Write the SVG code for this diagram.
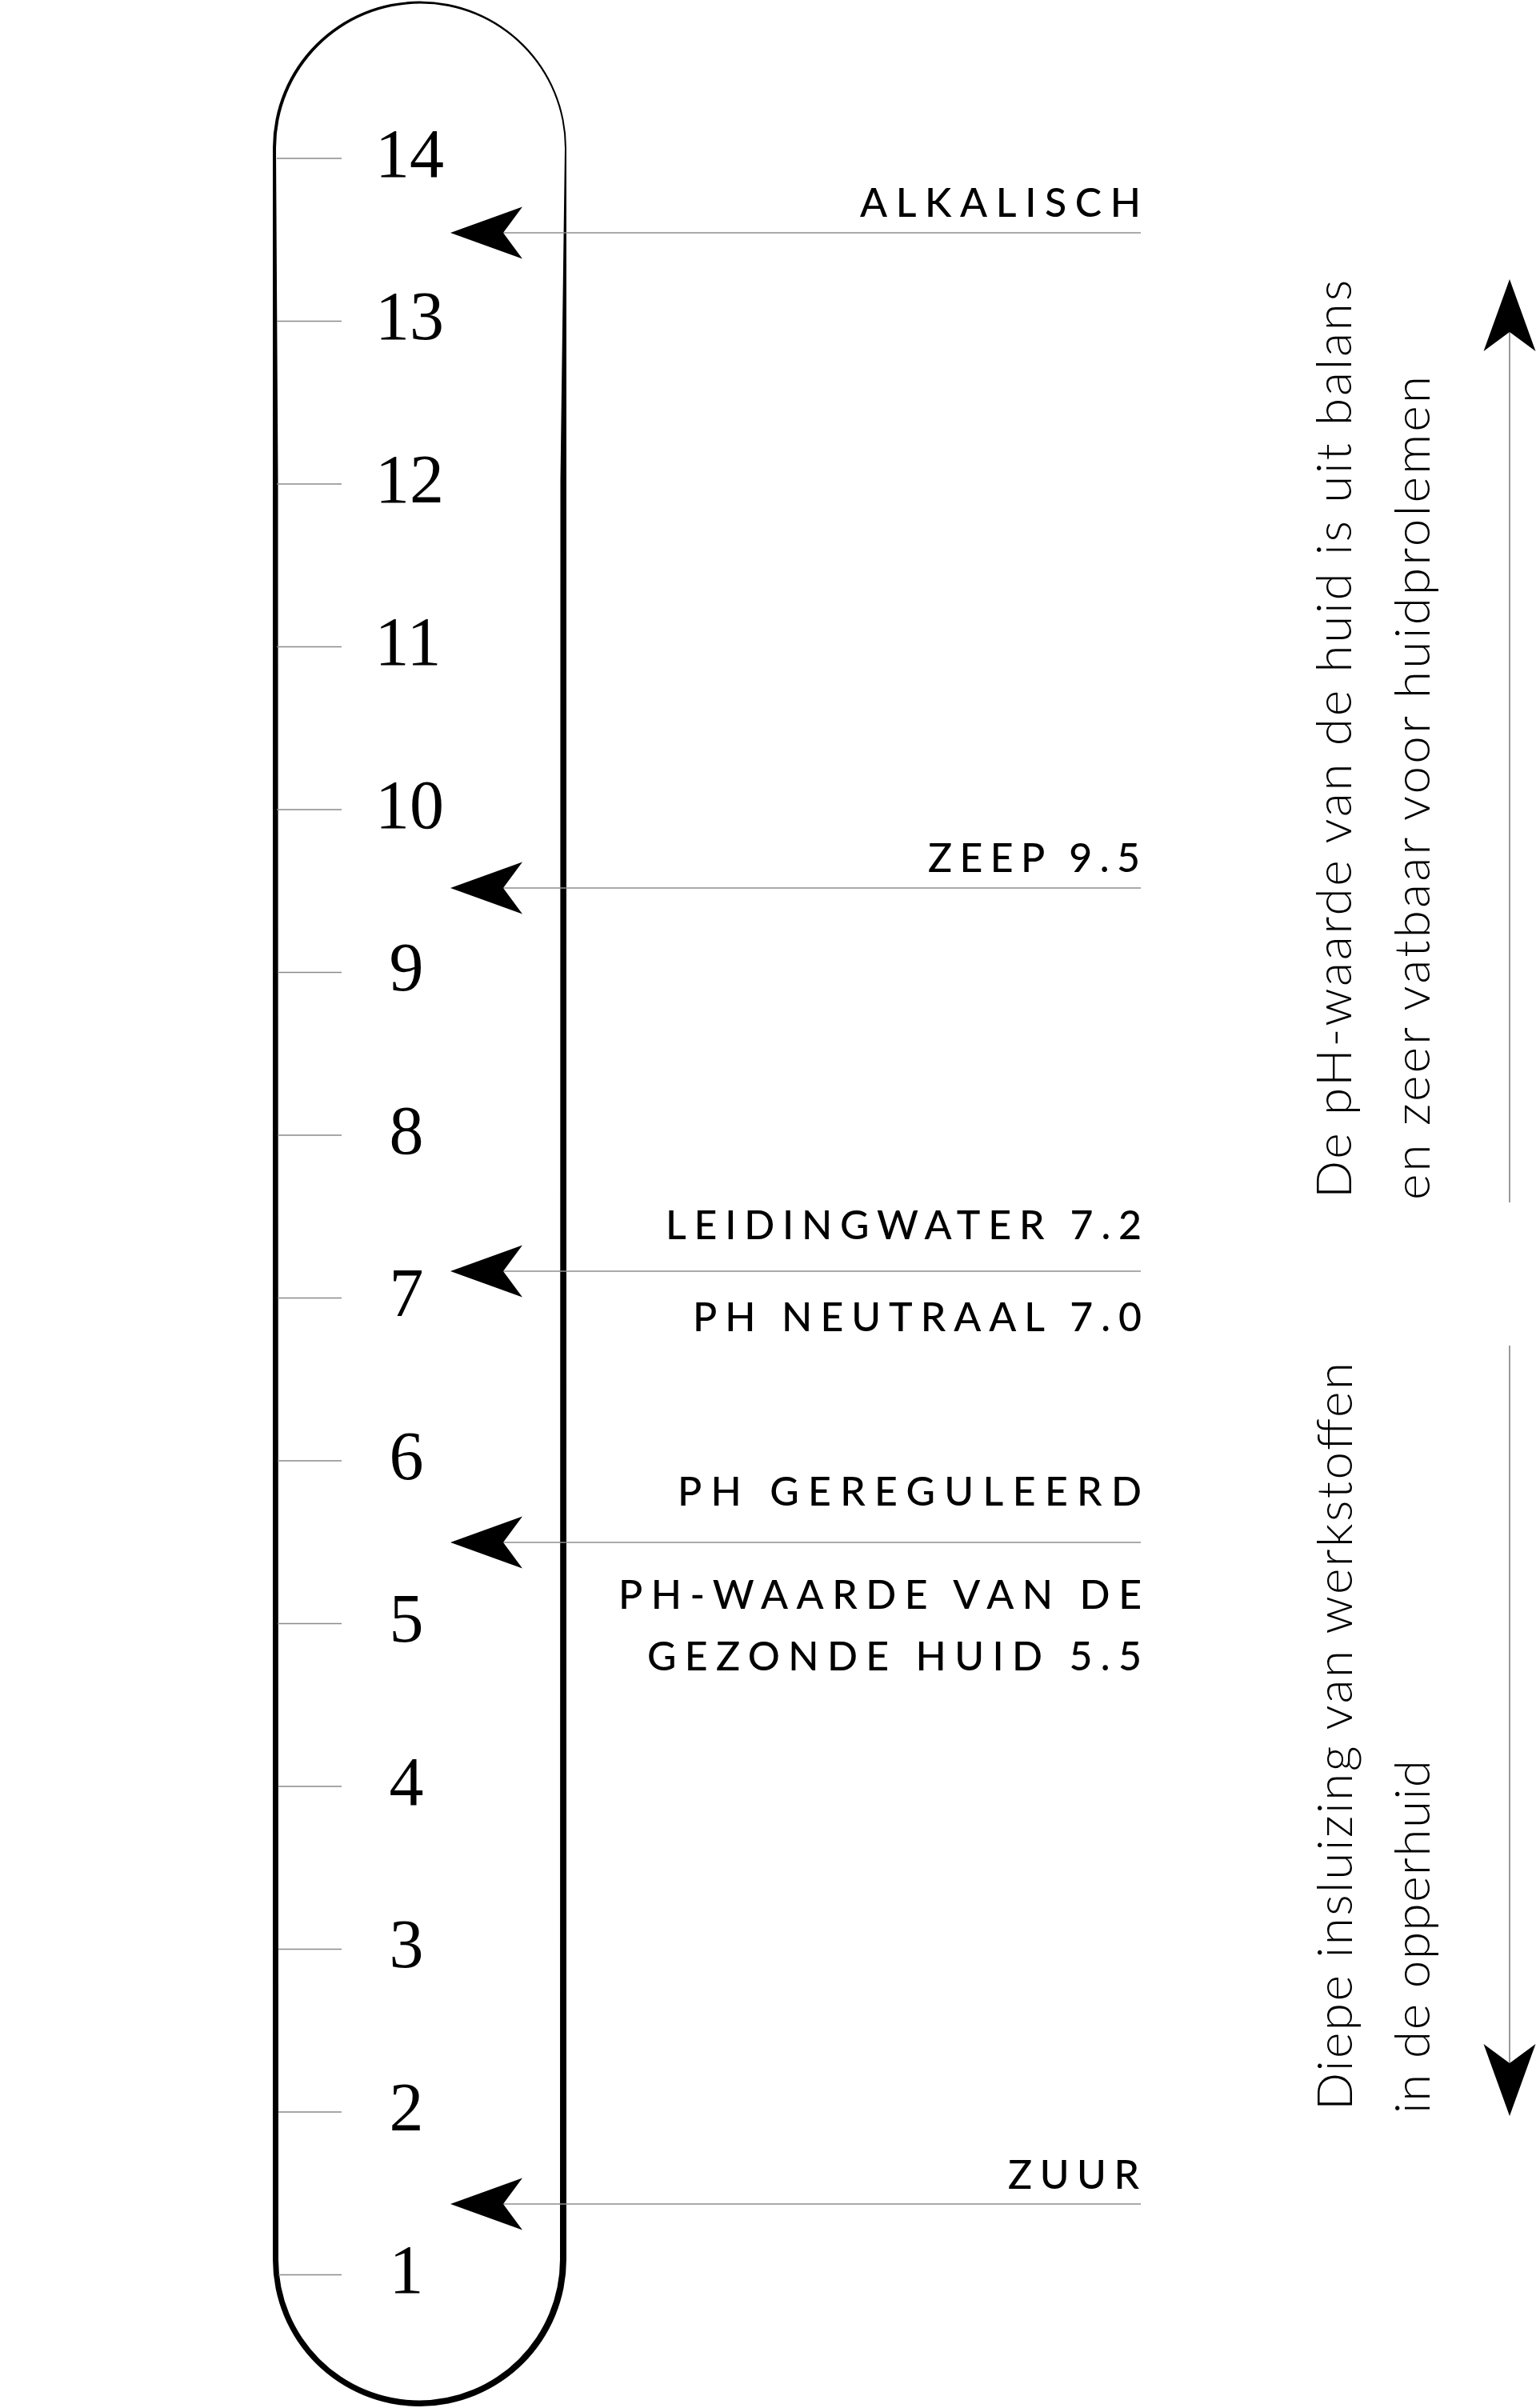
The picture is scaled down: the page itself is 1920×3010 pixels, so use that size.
<svg xmlns="http://www.w3.org/2000/svg" xmlns:xlink="http://www.w3.org/1999/xlink" width="1920" height="3010" viewBox="0 0 1920 3010">
<style>
.bg{fill:#ffffff}
.tick{stroke:#8a8a8a;stroke-width:1.6;fill:none}
.conn{stroke:#8e8e8e;stroke-width:1.6;fill:none}
.vconn{stroke:#9a9a9a;stroke-width:2;fill:none}
.num{font-family:"Liberation Serif","Times New Roman",serif;font-size:86px;fill:#000;text-anchor:middle}
.lbl{font-family:Lato,"Liberation Sans",sans-serif;font-size:50px;font-weight:500;fill:#000}
.vt{font-family:Lato,"Liberation Sans",sans-serif;font-size:62px;font-weight:300;fill:#000}
.head{fill:#000}
</style>
<defs>
<path id="ah" class="head" d="M0,0 L90,-32.5 L66,0 L90,32.5 Z"/>
</defs>
<rect class="bg" x="0" y="0" width="1920" height="3010"/>

<g id="tube">
<path fill="#000" fill-rule="evenodd" d="M341,185 A183.5,183.5 0 0 1 708,185 L708,2824.5 A183.5,183.5 0 0 1 341,2824.5 Z M345,185 L347.5,600 L348,2824.5 A176,176 0 0 0 700,2824.5 L700.5,600 L706,185 A180.5,180.5 0 0 0 345,185 Z"/>
</g>

<g id="scale">
<g id="ticks">
<line class="tick" x1="346" y1="198" x2="427" y2="198"/>
<line class="tick" x1="346" y1="401.5" x2="427" y2="401.5"/>
<line class="tick" x1="346" y1="605" x2="427" y2="605"/>
<line class="tick" x1="346" y1="808.5" x2="427" y2="808.5"/>
<line class="tick" x1="346" y1="1012" x2="427" y2="1012"/>
<line class="tick" x1="347" y1="1215.5" x2="427" y2="1215.5"/>
<line class="tick" x1="347" y1="1419" x2="427" y2="1419"/>
<line class="tick" x1="347" y1="1622.5" x2="427" y2="1622.5"/>
<line class="tick" x1="347" y1="1826" x2="427" y2="1826"/>
<line class="tick" x1="347" y1="2029.5" x2="427" y2="2029.5"/>
<line class="tick" x1="348" y1="2233" x2="427" y2="2233"/>
<line class="tick" x1="348" y1="2436.5" x2="427" y2="2436.5"/>
<line class="tick" x1="348" y1="2640" x2="427" y2="2640"/>
<line class="tick" x1="348" y1="2843.5" x2="427" y2="2843.5"/>
</g>
<g id="numbers">
<text class="num" x="512" y="220.5">14</text>
<text class="num" x="512" y="424">13</text>
<text class="num" x="512" y="627.5">12</text>
<text class="num" x="510" y="831">11</text>
<text class="num" x="512" y="1034.5">10</text>
<text class="num" x="508" y="1238">9</text>
<text class="num" x="508" y="1441.5">8</text>
<text class="num" x="508" y="1645">7</text>
<text class="num" x="508" y="1848.5">6</text>
<text class="num" x="508" y="2052">5</text>
<text class="num" x="508" y="2255.5">4</text>
<text class="num" x="508" y="2459">3</text>
<text class="num" x="508" y="2662.5">2</text>
<text class="num" x="508" y="2866">1</text>
</g>
</g>

<g id="connectors">
<line class="conn" x1="629" y1="291" x2="1426" y2="291"/>
<line class="conn" x1="629" y1="1110" x2="1426" y2="1110"/>
<line class="conn" x1="629" y1="1589" x2="1426" y2="1589"/>
<line class="conn" x1="629" y1="1928" x2="1426" y2="1928"/>
<line class="conn" x1="629" y1="2755" x2="1426" y2="2755"/>
<use href="#ah" xlink:href="#ah" x="563" y="291"/>
<use href="#ah" xlink:href="#ah" x="563" y="1110"/>
<use href="#ah" xlink:href="#ah" x="563" y="1589"/>
<use href="#ah" xlink:href="#ah" x="563" y="1928"/>
<use href="#ah" xlink:href="#ah" x="563" y="2755"/>
<line class="vconn" x1="1887" y1="412" x2="1887" y2="1503"/>
<use href="#ah" xlink:href="#ah" transform="translate(1887,349) rotate(90)"/>
<line class="vconn" x1="1887" y1="1682" x2="1887" y2="2584"/>
<use href="#ah" xlink:href="#ah" transform="translate(1887,2645) rotate(-90)"/>
</g>

<g id="label-alkalisch"><text class="lbl" x="1075" y="271" textLength="351" lengthAdjust="spacing">ALKALISCH</text></g>
<g id="label-zeep"><text class="lbl" x="1160" y="1090" textLength="265" lengthAdjust="spacing">ZEEP 9.5</text></g>
<g id="label-leidingwater"><text class="lbl" x="832" y="1549" textLength="595" lengthAdjust="spacing">LEIDINGWATER 7.2</text></g>
<g id="label-neutraal"><text class="lbl" x="866" y="1664" textLength="561" lengthAdjust="spacing">PH NEUTRAAL 7.0</text></g>
<g id="label-gereguleerd"><text class="lbl" x="847" y="1882" textLength="580" lengthAdjust="spacing">PH GEREGULEERD</text></g>
<g id="label-gezond">
<text class="lbl" x="773" y="2011" textLength="654" lengthAdjust="spacing">PH-WAARDE VAN DE</text>
<text class="lbl" x="809" y="2088" textLength="618" lengthAdjust="spacing">GEZONDE HUID 5.5</text>
</g>
<g id="label-zuur"><text class="lbl" x="1260" y="2736" textLength="164" lengthAdjust="spacing">ZUUR</text></g>

<g id="note-top">
<text class="vt" transform="translate(1689,1498) rotate(-90)" x="0" y="0" textLength="1148" lengthAdjust="spacing">De pH-waarde van de huid is uit balans</text>
<text class="vt" transform="translate(1787,1500) rotate(-90)" x="0" y="0" textLength="1030" lengthAdjust="spacing">en zeer vatbaar voor huidprolemen</text>
</g>
<g id="note-bottom">
<text class="vt" transform="translate(1690,2638) rotate(-90)" x="0" y="0" textLength="935" lengthAdjust="spacing">Diepe insluizing van werkstoffen</text>
<text class="vt" transform="translate(1787,2642) rotate(-90)" x="0" y="0" textLength="442" lengthAdjust="spacing">in de opperhuid</text>
</g>
</svg>
